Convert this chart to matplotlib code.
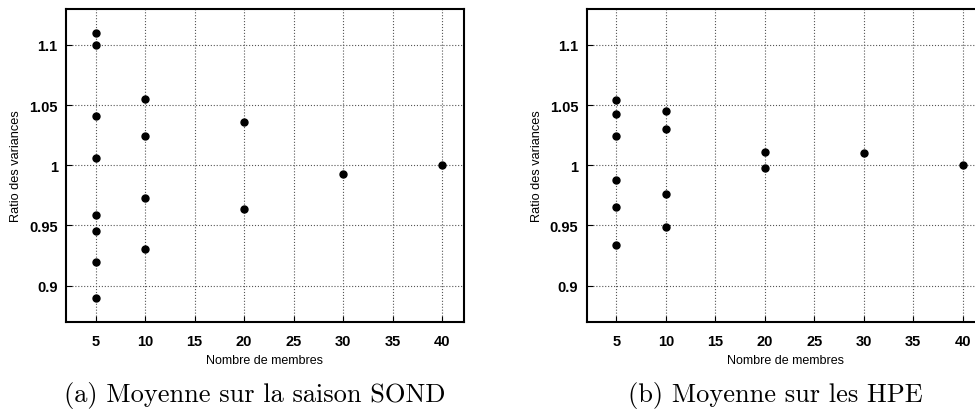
import matplotlib.pyplot as plt

# (a) Moyenne sur la saison SOND
members_a = [5, 5, 5, 5, 5, 5, 5, 5, 10, 10, 10, 10, 20, 20, 30, 40]
ratio_a = [1.110, 1.100, 1.041, 1.006, 0.959, 0.945, 0.920, 0.890,
           1.055, 1.024, 0.973, 0.930, 1.036, 0.964, 0.993, 1.000]

# (b) Moyenne sur les HPE
members_b = [5, 5, 5, 5, 5, 5, 10, 10, 10, 10, 20, 20, 30, 40]
ratio_b = [1.054, 1.043, 1.024, 0.988, 0.965, 0.934,
           1.045, 1.030, 0.976, 0.949, 1.011, 0.998, 1.010, 1.000]

xticks = [5, 10, 15, 20, 25, 30, 35, 40]
yticks = [0.9, 0.95, 1.0, 1.05, 1.1]
yticklabels = ["0.9", "0.95", "1", "1.05", "1.1"]
captions = ["(a) Moyenne sur la saison SOND", "(b) Moyenne sur les HPE"]

plt.rcParams["font.family"] = ["Liberation Sans", "DejaVu Sans"]

fig = plt.figure(figsize=(9.75, 4.1), dpi=100)
ax_a = fig.add_axes([0.0677, 0.213, 0.408, 0.763])
ax_b = fig.add_axes([0.6017, 0.213, 0.408, 0.763])

for ax, xs, ys in [(ax_a, members_a, ratio_a), (ax_b, members_b, ratio_b)]:
    ax.plot(xs, ys, "o", color="black", markersize=5, zorder=3)
    ax.set_xlim(2, 42.2)
    ax.set_ylim(0.87, 1.13)
    ax.set_xticks(xticks)
    ax.set_yticks(yticks)
    ax.set_yticklabels(yticklabels)
    ax.tick_params(axis="x", direction="in", length=4, width=0.8,
                   labelsize=10.5, pad=9)
    ax.tick_params(axis="y", direction="in", length=4, width=0.8,
                   labelsize=10.5, pad=6)
    for lab in ax.get_xticklabels() + ax.get_yticklabels():
        lab.set_fontweight("bold")
    ax.grid(True, linestyle=":", color="#555555", linewidth=0.8)
    for s in ax.spines.values():
        s.set_linewidth(1.5)
    ax.set_xlabel("Nombre de membres", fontsize=9, labelpad=4)
    ax.set_ylabel("Ratio des variances", fontsize=9.2, labelpad=5)

fig.text(0.2615, 0.036, captions[0], ha="center", va="center",
         fontsize=19, family="cmr10")
fig.text(0.795, 0.036, captions[1], ha="center", va="center",
         fontsize=19, family="cmr10")

fig.savefig("out.png", dpi=100)
